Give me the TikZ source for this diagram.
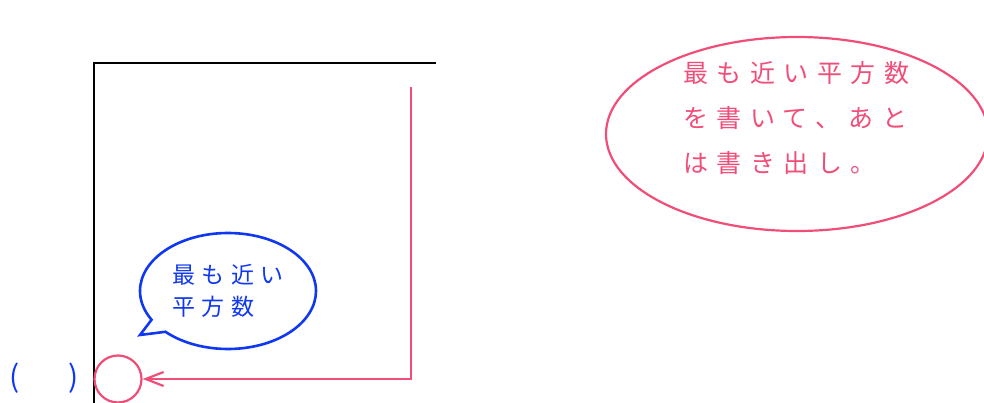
\documentclass[tikz,border=0pt]{standalone}
\usepackage{fontspec}
\usetikzlibrary{shapes.geometric,shapes.callouts,arrows.meta}
\newfontfamily\jpfont{Noto Sans CJK JP}
\newcommand\bluefont{\jpfont\addfontfeature{LetterSpace=27}\fontsize{23}{32}\selectfont}
\newcommand\redfont{\jpfont\addfontfeature{LetterSpace=34}\fontsize{25}{45}\selectfont}
\definecolor{notered}{RGB}{240,78,120}
\definecolor{noteblue}{RGB}{16,56,240}
\begin{document}
\begin{tikzpicture}[
    x=1pt, y=-1pt, % 画素と同じ座標系（y は下向き）
    frame/.style={black, line width=2.8pt},
    redline/.style={notered, line width=2.2pt},
    bubble/.style={ellipse callout, draw=noteblue, line width=2.6pt,
      text=noteblue, font=\bluefont, align=left}
  ]
    \useasboundingbox (0,0) rectangle (984,403);

    % 枠（左と上）
    \draw[frame] (94,403) -- (94,63) -- (436,63);

    % 答えを書く丸と括弧
    \node[circle, draw=notered, line width=2.2pt, minimum size=47pt, inner sep=0pt] (ans) at (118,379) {};
    \node[text=noteblue, font=\jpfont\fontsize{30}{30}\selectfont] (paren) at (44,378) {(\hspace{48pt})};

    % 上から丸へ戻る矢印
    \coordinate (start) at (411,87);
    \draw[redline, -{Straight Barb[length=18pt,width=14pt]}] (start) |- (ans);

    % 吹き出し
    \node[bubble, minimum width=176pt, minimum height=116pt,
      callout absolute pointer={(140,335)}] (hint) at (228,291) {最も近い\\平方数};

    % 右上のメモ
    \node[ellipse, draw=notered, line width=2.2pt, minimum width=382pt, minimum height=194pt] (memo) at (797,134) {};
    \node[text=notered, font=\redfont, align=left, anchor=north west, inner sep=0pt] (memotext) at (683,61)
      {最も近い平方数\\を書いて、あと\\は書き出し。};
\end{tikzpicture}
\end{document}
